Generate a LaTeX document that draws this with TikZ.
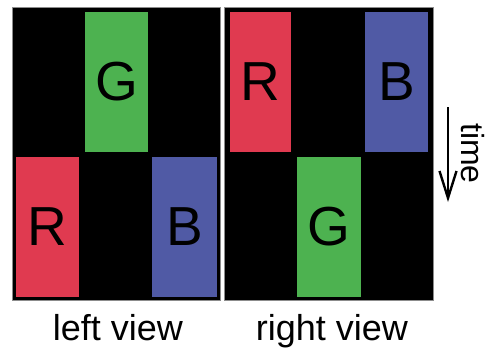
\documentclass[tikz,border=0pt]{standalone}
\usepackage{fontspec}
\setmainfont{Liberation Sans}
\usetikzlibrary{arrows.meta}
\definecolor{cred}{RGB}{224,58,80}
\definecolor{cgreen}{RGB}{77,178,80}
\definecolor{cblue}{RGB}{80,90,165}
\tikzset{
  panel/.style={fill=black, draw=black!45, line width=1pt},
  bar/.style={inner sep=0pt, minimum width=63pt, minimum height=140pt, font=\fontsize{55}{55}\selectfont, text=black},
  lbl/.style={anchor=base, font=\fontsize{36}{36}\selectfont},
}
\begin{document}
\begin{tikzpicture}[x=1pt,y=-1pt]
\useasboundingbox (0,0) rectangle (490,351);
% panels
\draw[panel] (12,7) rectangle (220,300);
\draw[panel] (224,7) rectangle (433,300);
% left view bars
\node[bar, fill=cgreen] (lg) at (116.5,82) {G};
\node[bar, fill=cred] (lr) at (47.5,226.5) {R};
\node[bar, fill=cblue, minimum width=65pt] (lb) at (184.5,226.5) {B};
% right view bars
\node[bar, fill=cred, minimum width=61pt] (rr) at (260.5,82) {R};
\node[bar, fill=cblue] (rb) at (396.5,82) {B};
\node[bar, fill=cgreen, minimum width=64pt] (rg) at (329,226.5) {G};
% labels
\node[lbl] (ll) at (118,340) {left view};
\node[lbl] (rl) at (332,340) {right view};
% time arrow
\coordinate (ts) at (448,107);
\coordinate (te) at (448,202);
\draw[line width=2.4pt, -{Straight Barb[length=27pt,width=17pt,line width=2.4pt]}] (ts) -- (te);
\node[rotate=-90, anchor=base, font=\fontsize{32}{32}\selectfont] (tl) at (461,153.5) {time};
\end{tikzpicture}
\end{document}
